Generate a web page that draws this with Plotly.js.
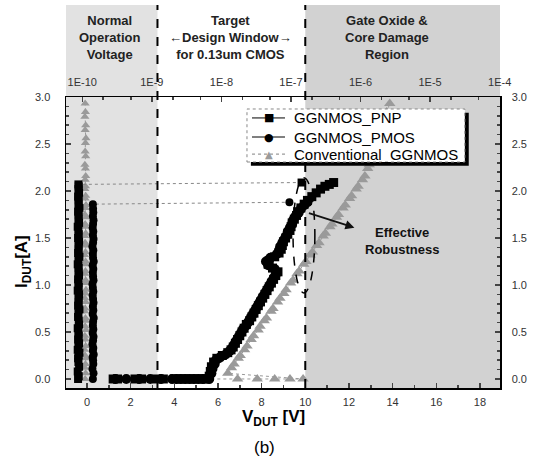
<!DOCTYPE html>
<html>
<head>
<meta charset="utf-8">
<script src="https://cdn.plot.ly/plotly-3.0.1.min.js"></script>
<style>html,body{margin:0;padding:0;background:#fff;}#chart{width:535px;height:461px;}</style>
</head>
<body>
<div id="chart"></div>
<script>
// ---- data ----
// TLP I-V: GGNMOS_PNP
var pnpV = [1.2, 1.4, 2.2, 2.5, 3.2, 3.5, 4.0, 4.2, 4.4, 4.6, 4.8, 5.0, 5.2, 5.4, 5.5,
  5.6, 5.65, 5.7, 5.8, 5.95, 6.2, 6.45, 6.6, 6.7, 6.8, 6.9, 7.0, 7.1, 7.2, 7.3,
  7.45, 7.55, 7.65, 7.75, 7.85, 7.95, 8.05, 8.15, 8.25, 8.35, 8.45, 8.55, 8.65, 8.75, 8.5,
  8.3, 8.35, 8.6, 8.8, 8.9, 8.95, 9.0, 9.1, 9.2, 9.3, 9.35, 9.4, 9.5, 9.6, 9.65,
  9.8, 9.95, 10.1, 10.3, 10.5, 10.7, 10.9, 11.1, 11.3];
var pnpI = [0, 0, 0, 0, 0, 0, 0, 0, 0, 0, 0, 0, 0, 0, 0,
  0.03, 0.08, 0.13, 0.18, 0.22, 0.25, 0.28, 0.31, 0.34, 0.38, 0.42, 0.46, 0.50, 0.54, 0.58,
  0.62, 0.66, 0.70, 0.74, 0.78, 0.82, 0.86, 0.90, 0.94, 0.98, 1.02, 1.06, 1.10, 1.14, 1.18,
  1.22, 1.26, 1.30, 1.34, 1.38, 1.42, 1.46, 1.50, 1.54, 1.58, 1.62, 1.66, 1.70, 1.74, 1.78,
  1.82, 1.86, 1.90, 1.94, 1.98, 2.02, 2.05, 2.07, 2.09];

// TLP I-V: GGNMOS_PMOS
var pmosV = [1.3, 1.8, 2.4, 2.9, 3.4, 3.9, 4.1, 4.3, 4.5, 4.7, 4.9, 5.1, 5.3, 5.6,
  5.7, 5.75, 5.85, 5.9, 6.1, 6.35, 6.55, 6.65, 6.75, 6.85, 6.95, 7.05, 7.15, 7.3, 7.4,
  7.5, 7.6, 7.7, 7.8, 7.9, 8.0, 8.1, 8.2, 8.3, 8.4, 8.5, 8.6, 8.7, 8.6, 8.3,
  8.2, 8.4, 8.7, 8.8, 8.85, 8.95, 9.05, 9.15, 9.2, 9.3, 9.4, 9.45, 9.55, 9.7, 9.8,
  9.95, 10.1];
var pmosI = [0, 0, 0, 0, 0, 0, 0, 0, 0, 0, 0, 0, 0, 0,
  0.06, 0.11, 0.16, 0.20, 0.23, 0.26, 0.30, 0.33, 0.37, 0.41, 0.45, 0.49, 0.53, 0.57, 0.61,
  0.65, 0.69, 0.73, 0.77, 0.81, 0.85, 0.89, 0.93, 0.97, 1.01, 1.05, 1.09, 1.13, 1.17, 1.21,
  1.25, 1.29, 1.33, 1.37, 1.41, 1.45, 1.49, 1.53, 1.57, 1.61, 1.65, 1.69, 1.73, 1.77, 1.81,
  1.85, 1.88];

// TLP I-V: Conventional_GGNMOS
var convV = [1.3, 2.4, 3.4, 4.6, 5.5, 6.9, 7.8, 8.6, 9.3, 9.9,
  6.45, 6.62, 6.74, 6.93, 7.02, 7.22, 7.33, 7.52, 7.63, 7.84, 7.93, 8.12, 8.22, 8.43, 8.52,
  8.73, 8.84, 9.02, 9.12, 9.33, 9.44, 9.62, 9.72, 9.93, 10.03, 10.22, 10.33, 10.52, 10.63, 10.82,
  10.92, 11.13, 11.22, 11.43, 11.52, 11.73, 11.83, 12.03, 12.12, 12.33, 12.42, 12.62, 12.73, 12.86, 12.93,
  13.07, 13.13, 13.27, 13.33, 13.47, 13.53, 13.67, 13.73, 13.87];
var convI = [0, 0, 0, 0, 0, 0, 0, 0, 0, 0,
  0.06, 0.12, 0.16, 0.22, 0.25, 0.31, 0.35, 0.42, 0.46, 0.52, 0.56, 0.62, 0.65, 0.72, 0.75,
  0.82, 0.86, 0.91, 0.95, 1.02, 1.05, 1.12, 1.15, 1.22, 1.25, 1.32, 1.35, 1.42, 1.45, 1.52,
  1.55, 1.62, 1.65, 1.72, 1.75, 1.82, 1.85, 1.92, 1.95, 2.02, 2.05, 2.12, 2.16, 2.24, 2.28,
  2.37, 2.42, 2.51, 2.56, 2.65, 2.70, 2.79, 2.84, 2.93];

// leakage current (top axis, A) after each pulse vs. I_DUT
var pnpLeakI = [0, 0.03, 0.08, 0.13, 0.18, 0.22, 0.25, 0.28, 0.31, 0.34, 0.38, 0.42, 0.46, 0.50, 0.54, 0.58,
  0.62, 0.66, 0.70, 0.74, 0.78, 0.82, 0.86, 0.90, 0.94, 0.98, 1.02, 1.06, 1.10, 1.14, 1.18,
  1.22, 1.26, 1.30, 1.34, 1.38, 1.42, 1.46, 1.50, 1.54, 1.58, 1.62, 1.66, 1.70, 1.74, 1.78,
  1.82, 1.86, 1.90, 1.94, 1.98, 2.02, 2.05, 2.07, 2.09];
var pnpLeak = [8.7e-11, 8.9e-11, 8.6e-11, 9.0e-11, 8.8e-11, 8.7e-11, 8.9e-11, 9.1e-11, 8.6e-11, 8.8e-11,
  9.0e-11, 8.7e-11, 8.9e-11, 8.8e-11, 8.6e-11, 9.0e-11, 8.9e-11, 8.7e-11, 8.8e-11, 9.1e-11,
  8.7e-11, 8.9e-11, 8.8e-11, 9.0e-11, 8.6e-11, 8.9e-11, 8.8e-11, 8.7e-11, 9.0e-11, 8.8e-11,
  8.9e-11, 8.6e-11, 8.8e-11, 9.1e-11, 8.7e-11, 8.9e-11, 8.8e-11, 9.0e-11, 8.7e-11, 8.9e-11,
  8.8e-11, 8.6e-11, 9.0e-11, 8.8e-11, 8.9e-11, 8.7e-11, 9.1e-11, 8.8e-11, 8.9e-11, 8.7e-11,
  9.0e-11, 8.8e-11, 8.9e-11, 8.8e-11, 1.42e-7];

var pmosLeakI = [0, 0.06, 0.11, 0.16, 0.20, 0.23, 0.26, 0.30, 0.33, 0.37, 0.41, 0.45, 0.49, 0.53, 0.57, 0.61,
  0.65, 0.69, 0.73, 0.77, 0.81, 0.85, 0.89, 0.93, 0.97, 1.01, 1.05, 1.09, 1.13, 1.17, 1.21,
  1.25, 1.29, 1.33, 1.37, 1.41, 1.45, 1.49, 1.53, 1.57, 1.61, 1.65, 1.69, 1.73, 1.77, 1.81,
  1.86, 1.88];
var pmosLeak = [1.42e-10, 1.45e-10, 1.40e-10, 1.44e-10, 1.43e-10, 1.41e-10, 1.46e-10, 1.42e-10, 1.44e-10, 1.40e-10,
  1.43e-10, 1.45e-10, 1.41e-10, 1.44e-10, 1.42e-10, 1.43e-10, 1.46e-10, 1.41e-10, 1.44e-10, 1.42e-10,
  1.45e-10, 1.43e-10, 1.41e-10, 1.44e-10, 1.42e-10, 1.40e-10, 1.45e-10, 1.43e-10, 1.42e-10, 1.44e-10,
  1.41e-10, 1.46e-10, 1.43e-10, 1.42e-10, 1.44e-10, 1.40e-10, 1.43e-10, 1.45e-10, 1.42e-10, 1.44e-10,
  1.41e-10, 1.43e-10, 1.45e-10, 1.42e-10, 1.44e-10, 1.43e-10, 1.42e-10, 9.5e-8];

var convLeakI = [0, 0.06, 0.12, 0.16, 0.22, 0.25, 0.31, 0.35, 0.42, 0.46, 0.52, 0.56, 0.62, 0.65, 0.72, 0.75,
  0.82, 0.86, 0.91, 0.95, 1.02, 1.05, 1.12, 1.15, 1.22, 1.25, 1.32, 1.35, 1.42, 1.45, 1.52,
  1.55, 1.62, 1.65, 1.72, 1.75, 1.82, 1.85, 1.92, 1.95, 2.02, 2.05, 2.12, 2.16, 2.24, 2.28,
  2.37, 2.42, 2.51, 2.56, 2.65, 2.70, 2.79, 2.84, 2.93];
var convLeak = [1.10e-10, 1.12e-10, 1.09e-10, 1.11e-10, 1.13e-10, 1.10e-10, 1.08e-10, 1.12e-10, 1.11e-10, 1.09e-10,
  1.13e-10, 1.10e-10, 1.12e-10, 1.11e-10, 1.08e-10, 1.10e-10, 1.12e-10, 1.09e-10, 1.11e-10, 1.13e-10,
  1.10e-10, 1.12e-10, 1.09e-10, 1.11e-10, 1.10e-10, 1.12e-10, 1.08e-10, 1.11e-10, 1.13e-10, 1.10e-10,
  1.09e-10, 1.12e-10, 1.11e-10, 1.10e-10, 1.12e-10, 1.09e-10, 1.11e-10, 1.13e-10, 1.10e-10, 1.12e-10,
  1.09e-10, 1.11e-10, 1.10e-10, 1.12e-10, 1.11e-10, 1.09e-10, 1.12e-10, 1.10e-10, 1.11e-10, 1.13e-10,
  1.10e-10, 1.12e-10, 1.09e-10, 1.11e-10, 1.10e-10];

var topTickVals = [1e-10, 1e-9, 1e-8, 1e-7, 1e-6, 1e-5, 1e-4];
var topTickText = ['1E-10', '1E-9', '1E-8', '1E-7', '1E-6', '1E-5', '1E-4'];
var seriesNames = ['GGNMOS_PNP', 'GGNMOS_PMOS', 'Conventional_GGNMOS'];
var legendSymbols = ['\u25A0', '\u25CF', '\u25B2'];

// region boundaries (V)
var normalEdgeV = 3.23, damageEdgeV = 10.0;

// ---- traces ----
var GRAY = '#9a9a9a';
var FONT = 'Liberation Sans, Arial, sans-serif';
var traces = [
  {x: convV, y: convI, name: seriesNames[2], mode: 'lines+markers',
   marker: {symbol: 'triangle-up', size: 10, color: GRAY}, line: {color: GRAY, width: 1, dash: 'dot'}},
  {x: pmosV, y: pmosI, name: seriesNames[1], mode: 'lines+markers',
   marker: {symbol: 'circle', size: 10, color: '#000'}, line: {color: '#000', width: 1}},
  {x: pnpV, y: pnpI, name: seriesNames[0], mode: 'lines+markers',
   marker: {symbol: 'square', size: 9, color: '#000'}, line: {color: '#000', width: 1}},
  {x: convLeak, y: convLeakI, xaxis: 'x2', yaxis: 'y', mode: 'lines+markers', name: seriesNames[2] + ' leakage',
   marker: {symbol: 'triangle-up', size: 8, color: GRAY}, line: {color: GRAY, width: 1, dash: 'dot'}},
  {x: pnpLeak, y: pnpLeakI, xaxis: 'x2', yaxis: 'y', mode: 'lines+markers', name: seriesNames[0] + ' leakage',
   marker: {symbol: 'square', size: 8, color: '#000'}, line: {color: '#888', width: 1, dash: 'dot'}},
  {x: pmosLeak, y: pmosLeakI, xaxis: 'x2', yaxis: 'y', mode: 'lines+markers', name: seriesNames[1] + ' leakage',
   marker: {symbol: 'circle', size: 8, color: '#000'}, line: {color: '#888', width: 1, dash: 'dot'}},
  {x: [0], y: [0], yaxis: 'y2', mode: 'markers', hoverinfo: 'skip', marker: {opacity: 0}}
];

var tickFont = {family: FONT, size: 11, color: '#333'};

// legend drawn as a framed box with shadow, like the reference
var legX0 = 0.417, legX1 = 0.919, legY0 = 0.7766, legY1 = 0.9588;
var legRows = [0.928, 0.8625, 0.804];
var legShapes = [
  {type: 'rect', xref: 'paper', yref: 'paper', x0: legX0 + 0.009, x1: legX1 + 0.009, y0: legY0 - 0.013, y1: legY1 - 0.013,
   fillcolor: '#000', line: {width: 0}, layer: 'above'},
  {type: 'rect', xref: 'paper', yref: 'paper', x0: legX0, x1: legX1, y0: legY0, y1: legY1,
   fillcolor: '#fff', line: {color: '#888', width: 1, dash: 'dot'}, layer: 'above'}
];
var legLineStyles = [
  {color: '#000', width: 1, dash: 'solid'},
  {color: '#000', width: 1, dash: 'solid'},
  {color: GRAY, width: 1.2, dash: 'dot'}
];
var legColors = ['#000', '#000', GRAY];
var legAnn = [];
for (var k = 0; k < 3; k++) {
  legShapes.push({type: 'line', xref: 'paper', yref: 'paper', x0: 0.4286, x1: 0.5046,
    y0: legRows[k], y1: legRows[k], line: legLineStyles[k], layer: 'above'});
  legAnn.push({xref: 'paper', yref: 'paper', x: 0.4666, y: legRows[k], xanchor: 'center', yanchor: 'middle',
    text: legendSymbols[k], showarrow: false,
    font: {family: 'DejaVu Sans, sans-serif', size: k === 2 ? 10 : 11, color: legColors[k]}});
  legAnn.push({xref: 'paper', yref: 'paper', x: 0.5207, y: legRows[k], xanchor: 'left', yanchor: 'middle',
    text: seriesNames[k], showarrow: false, font: {family: FONT, size: 15, color: '#000'}});
}

var layout = {
  width: 535, height: 461,
  margin: {l: 66, r: 35, t: 97, b: 73},
  paper_bgcolor: '#fff', plot_bgcolor: 'rgba(0,0,0,0)',
  showlegend: false,
  xaxis: {range: [-0.96, 18.92], dtick: 2, tick0: 0, ticks: 'inside', ticklen: 5, tickwidth: 1.5,
          minor: {dtick: 1, ticks: 'inside', ticklen: 3}, showgrid: false, zeroline: false,
          showline: true, linecolor: '#000', linewidth: 1.5, tickfont: tickFont, ticklabelstandoff: 3},
  xaxis2: {type: 'log', overlaying: 'x', side: 'top', range: [-10.234, -3.995],
           tickvals: topTickVals, ticktext: topTickText, ticks: 'inside', ticklen: 5, tickwidth: 1.5,
           minor: {ticks: 'inside', ticklen: 3, showgrid: false}, showgrid: false, zeroline: false,
           showline: true, linecolor: '#000', linewidth: 1.5, tickfont: tickFont, ticklabelstandoff: 5},
  yaxis: {range: [-0.096, 3.0], dtick: 0.5, tickformat: '.1f', ticks: 'inside', ticklen: 5, tickwidth: 1.5,
          minor: {dtick: 0.1, ticks: 'inside', ticklen: 3}, showgrid: false, zeroline: false,
          showline: true, linecolor: '#000', linewidth: 1.5, tickfont: tickFont, ticklabelstandoff: 12},
  yaxis2: {overlaying: 'y', side: 'right', range: [-0.096, 3.0], dtick: 0.5, tickformat: '.1f',
           ticks: 'inside', ticklen: 5, tickwidth: 1.5, minor: {dtick: 0.1, ticks: 'inside', ticklen: 3},
           showgrid: false, zeroline: false, showline: true, linecolor: '#000', linewidth: 1.5,
           tickfont: tickFont, ticklabelstandoff: 8},
  shapes: [
    {type: 'rect', xref: 'x', yref: 'paper', x0: -0.96, x1: normalEdgeV, y0: 0, y1: 1.316,
     fillcolor: '#e2e2e2', line: {width: 0}, layer: 'below'},
    {type: 'rect', xref: 'x', yref: 'paper', x0: damageEdgeV, x1: 18.92, y0: 0, y1: 1.316,
     fillcolor: '#d2d2d2', line: {width: 0}, layer: 'below'},
    {type: 'line', xref: 'x', yref: 'paper', x0: normalEdgeV, x1: normalEdgeV, y0: 0, y1: 1.316,
     line: {color: '#000', width: 2, dash: 'dash'}, layer: 'above'},
    {type: 'line', xref: 'x', yref: 'paper', x0: damageEdgeV, x1: damageEdgeV, y0: 0, y1: 1.316,
     line: {color: '#000', width: 2, dash: 'dash'}, layer: 'above'},
    {type: 'circle', xref: 'x', yref: 'y', x0: 9.44, x1: 10.44, y0: 0.915, y1: 2.14,
     line: {color: '#000', width: 1.5, dash: 'dash'}, layer: 'above'}
  ].concat(legShapes),
  annotations: [
    {xref: 'paper', yref: 'paper', x: 0.101, y: 1.206, xanchor: 'center', yanchor: 'middle',
     text: '<b>Normal<br>Operation<br>Voltage</b>', showarrow: false, font: {family: FONT, size: 13, color: '#222'}},
    {xref: 'paper', yref: 'paper', x: 0.380, y: 1.206, xanchor: 'center', yanchor: 'middle',
     text: '<b>Target<br>\u2190Design Window\u2192<br>for 0.13um CMOS</b>', showarrow: false,
     font: {family: FONT, size: 13, color: '#222'}},
    {xref: 'paper', yref: 'paper', x: 0.740, y: 1.206, xanchor: 'center', yanchor: 'middle',
     text: '<b>Gate Oxide &amp;<br>Core Damage<br>Region</b>', showarrow: false,
     font: {family: FONT, size: 13, color: '#222'}},
    {xref: 'x', yref: 'y', x: 14.43, y: 1.473, xanchor: 'center', yanchor: 'middle',
     text: '<b>Effective<br>Robustness</b>', showarrow: false, font: {family: FONT, size: 13, color: '#111'}},
    {xref: 'x', yref: 'y', axref: 'x', ayref: 'y', x: 12.25, y: 1.61, ax: 10.1, ay: 1.77, text: '',
     showarrow: true, arrowhead: 2, arrowsize: 1, arrowwidth: 1.8, arrowcolor: '#111'},
    {xref: 'paper', yref: 'paper', x: -0.099, y: 0.433, xanchor: 'center', yanchor: 'middle', textangle: -90,
     text: '<b>I<sub>DUT</sub>[A]</b>', showarrow: false, font: {family: FONT, size: 17, color: '#000'}},
    {xref: 'paper', yref: 'paper', x: 0.477, y: -0.103, xanchor: 'center', yanchor: 'middle',
     text: '<b>V<sub>DUT</sub> [V]</b>', showarrow: false, font: {family: FONT, size: 17, color: '#000'}},
    {xref: 'paper', yref: 'paper', x: 0.4585, y: -0.203, xanchor: 'center', yanchor: 'middle',
     text: '(b)', showarrow: false, font: {family: FONT, size: 17, color: '#000'}}
  ].concat(legAnn)
};

Plotly.newPlot('chart', traces, layout, {displayModeBar: false, staticPlot: true});
</script>
</body>
</html>
